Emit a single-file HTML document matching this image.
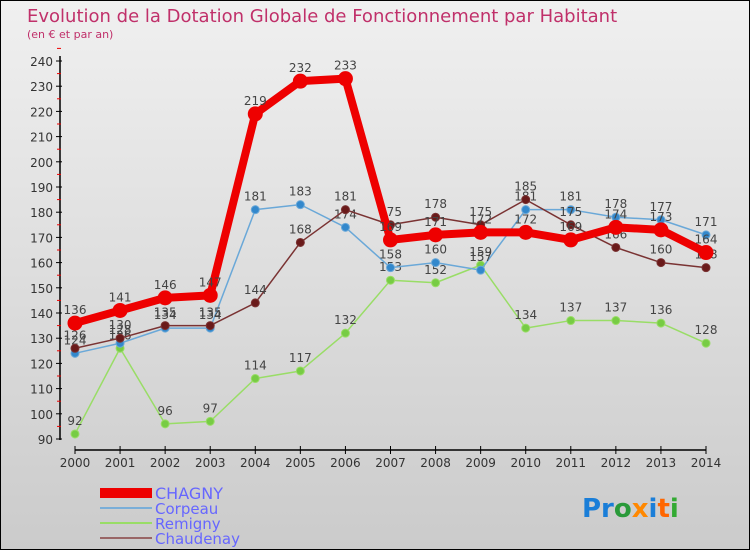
<!DOCTYPE html>
<html><head><meta charset="utf-8"><style>
body{margin:0;width:750px;height:550px;overflow:hidden}
svg text{font-family:"DejaVu Sans","Liberation Sans",sans-serif}
</style></head><body>
<svg id="c" width="750" height="550" xmlns="http://www.w3.org/2000/svg">
<defs><linearGradient id="bg" x1="0" y1="0" x2="0" y2="1"><stop offset="0" stop-color="#f0f0f0"/><stop offset="1" stop-color="#cbcbcb"/></linearGradient></defs>
<rect x="0.5" y="0.5" width="749" height="549" fill="url(#bg)" stroke="#000"/>
<text x="27" y="22" font-size="18" fill="#c0306a">Evolution de la Dotation Globale de Fonctionnement par Habitant</text>
<text x="27" y="38" font-size="11" fill="#c0306a">(en € et par an)</text>
<g id="axes"></g><g id="series"></g>
<g>
<rect x="100" y="488" width="52" height="10" fill="#ee0000"/>
<text x="155" y="499" font-size="16" fill="#6666ff">CHAGNY</text>
<rect x="100" y="507" width="52" height="2" fill="#7aaed8"/>
<text x="155" y="514" font-size="15" fill="#6666ff">Corpeau</text>
<rect x="100" y="522" width="52" height="2" fill="#99dd66"/>
<text x="155" y="529" font-size="15" fill="#6666ff">Remigny</text>
<rect x="100" y="537" width="52" height="2" fill="#996666"/>
<text x="155" y="544" font-size="15" fill="#6666ff">Chaudenay</text>
</g>
<text x="582" y="517" font-size="26" font-weight="bold"><tspan fill="#1a7ed8">Pr</tspan><tspan fill="#2a9a3a">o</tspan><tspan fill="#ff8800">x</tspan><tspan fill="#1a7ed8">i</tspan><tspan fill="#ff6600">t</tspan><tspan fill="#33aa33">i</tspan></text>
</svg>
<script>
const years=[2000,2001,2002,2003,2004,2005,2006,2007,2008,2009,2010,2011,2012,2013,2014];
const yTicks=[90,100,110,120,130,140,150,160,170,180,190,200,210,220,230,240];
const chagny=[136,141,146,147,219,232,233,169,171,172,172,169,174,173,164];
const corpeau=[124,128,134,134,181,183,174,158,160,157,181,181,178,177,171];
const remigny=[92,126,96,97,114,117,132,153,152,159,134,137,137,136,128];
const chaudenay=[126,130,135,135,144,168,181,175,178,175,185,175,166,160,158];
const NS="http://www.w3.org/2000/svg";
const xs=i=>75+i*(706-75)/(years.length-1);
const ys=v=>439-(v-90)*(439-61)/150;
function mk(t,a,p){const e=document.createElementNS(NS,t);for(const k in a)e.setAttribute(k,a[k]);p.appendChild(e);return e;}
const ax=document.getElementById('axes');
let yl=mk('line',{x1:60,y1:56,x2:60,y2:440,stroke:'#000','stroke-width':1.5},ax);


yTicks.forEach(v=>{
 mk('line',{x1:56,y1:ys(v),x2:62,y2:ys(v),stroke:'#000'},ax);
 mk('line',{x1:57,y1:ys(v+5),x2:61,y2:ys(v+5),stroke:'#e00'},ax);
 const t=mk('text',{x:53,y:ys(v)+5,'font-size':12,'text-anchor':'end',fill:'#333'},ax);t.textContent=v;
 
 
});
let xl=mk('line',{x1:75,y1:450,x2:706,y2:450,stroke:'#000','stroke-width':1.5},ax);


years.forEach((y,i)=>{
 mk('line',{x1:xs(i),y1:446,x2:xs(i),y2:454,stroke:'#000'},ax);
 const t=mk('text',{x:xs(i),y:467,'font-size':12,'text-anchor':'middle',fill:'#333'},ax);t.textContent=y;
 
 
});
const sg=document.getElementById('series');
function draw(data,name,col,dot,w,r){
 const g=mk('g',{},sg);
 
 
 const l=mk('polyline',{points:data.map((v,i)=>xs(i)+','+ys(v)).join(' '),fill:'none',stroke:col,'stroke-width':w,'stroke-linejoin':'round'},g);
 
 
 data.forEach((v,i)=>{
  const c=mk('circle',{cx:xs(i),cy:ys(v),r:r,fill:dot,stroke:col==dot?'none':col},g);
  
  
  const t=mk('text',{x:xs(i),y:ys(v)-9,'font-size':12,'text-anchor':'middle',fill:'#444'},g);t.textContent=v;
  
  
 });
}
draw(remigny,'remigny','#99dd66','#77cc44',1.5,4);
draw(corpeau,'corpeau','#6aa8d8','#3388cc',1.5,4);
draw(chaudenay,'chaudenay','#7a3333','#6a1a1a',1.5,4);
draw(chagny,'chagny','#ee0000','#ee0000',8,7.5);
</script>
</body></html>
